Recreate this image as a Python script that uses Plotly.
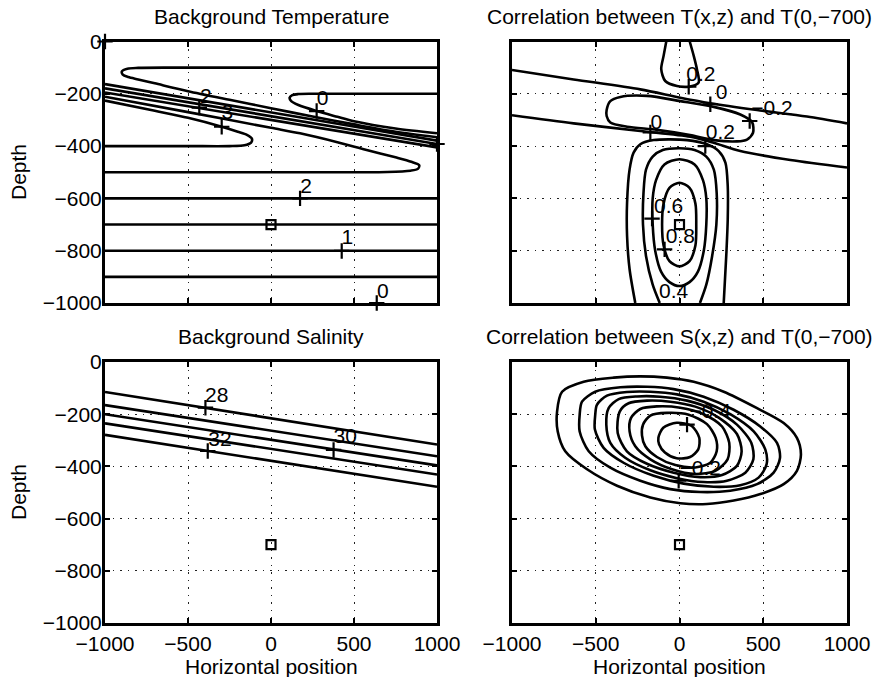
import plotly.graph_objects as go

FONT = "Liberation Sans, Arial, Helvetica, sans-serif"

# ---------------- axes ----------------
X_TICKS = [-1000, -500, 0, 500, 1000]
X_TICK_TEXT = ["−1000", "−500", "0", "500", "1000"]
Z_TICKS = [0, -200, -400, -600, -800, -1000]
Z_TICK_TEXT = ["0", "−200", "−400", "−600", "−800", "−1000"]

TITLES = ["Background Temperature",
          "Correlation between T(x,z) and T(0,−700)",
          "Background Salinity",
          "Correlation between S(x,z) and T(0,−700)"]

REF_X = [0]
REF_Z = [-700]

# ---------------- panel 1 : background temperature (contour lines, x / depth) ----------------
T_tongue_x = [1000, 0, -600, -800, -865, -898, -893, -860, -800, -700, -500, -250, 0, 250, 500, 750, 1000]
T_tongue_z = [-100, -100, -100, -101, -104, -114, -127, -136, -145, -160, -190, -223, -255, -287, -317, -345, -366]
T_nose_x = [1000, 500, 250, 165, 128, 112, 122, 165, 275, 400, 500, 750, 1000]
T_nose_z = [-200, -200, -200, -201, -205, -215, -228, -243, -266, -288, -305, -333, -351]
T_a_x = [-1000, 1000]
T_a_z = [-163, -379]
T_b_x = [-1000, 1000]
T_b_z = [-179, -392]
T_c_x = [-1000, 1000]
T_c_z = [-195, -405]
T_l500_x = [-1000, -500, 0, 175, 400, 576, 750, 845, 893, 885, 840, 700, 400, -1000]
T_l500_z = [-211, -270, -330, -351, -385, -415, -443, -460, -473, -487, -494, -499, -500, -500]
T_l400_x = [-1000, -700, -500, -297, -200, -145, -115, -120, -160, -250, -500, -1000]
T_l400_z = [-226, -265, -292, -326, -345, -357, -372, -387, -397, -400, -400, -400]
T_flat_levels = [-600, -700, -800, -900]

T_plus_x = [-432, -297, 275, 175, 426, 637, -1000, 1000]
T_plus_z = [-253, -326, -266, -600, -801, -1000, 0, -392]
T_lab_x = [-392, -263, 311, 211, 460, 673]
T_lab_z = [-215, -275, -221, -559, -754, -961]
T_lab_text = ["2", "3", "0", "2", "1", "0"]

# ---------------- panel 2 : correlation T(x,z) with T(0,-700) ----------------
CT_drop_x = [-79, -95, -109, -85, -15, 55, 114, 104, 85, 61]
CT_drop_z = [0, -55, -106, -151, -170, -173, -157, -106, -55, 0]
CT_up0_x = [-1000, -632, -234, 5, 184, 463, 761, 1000]
CT_up0_z = [-109, -145, -183, -215, -236, -262, -287, -313]
CT_loop_x = [-435, -413, -353, -194, 5, 204, 363, 433, 439, 403, 343, 204, 63, -134, -313, -413, -435, -435]
CT_loop_z = [-262, -228, -212, -208, -228, -250, -279, -308, -349, -375, -382, -377, -358, -338, -326, -310, -285, -262]
CT_low0_x = [-1000, -632, -234, 65, 204, 363, 662, 1000]
CT_low0_z = [-282, -313, -342, -364, -387, -419, -453, -482]
CT_02_x = [-264, -298, -313, -313, -298, -274, -234, -154, 45, 164, 234, 274, 288, 288, 280, 264]
CT_02_z = [-1000, -871, -744, -616, -489, -425, -393, -377, -377, -393, -419, -463, -553, -680, -808, -1000]
CT_04_x = [-118, -160, -200, -218, -215, -200, -160, -100, 0, 90, 160, 205, 222, 220, 195, 160, 122]
CT_04_z = [-1000, -930, -820, -700, -580, -490, -440, -415, -408, -415, -440, -490, -580, -700, -820, -930, -1000]
CT_06_x = [0, -90, -140, -160, -160, -145, -110, -60, 0, 60, 110, 145, 160, 160, 140, 90, 0]
CT_06_z = [-450, -470, -530, -600, -700, -800, -880, -920, -935, -920, -880, -800, -700, -600, -530, -470, -450]
CT_08_x = [0, -60, -95, -104, -95, -60, 0, 60, 95, 100, 95, 60, 0]
CT_08_z = [-540, -560, -620, -700, -780, -840, -860, -840, -780, -700, -620, -560, -540]

CT_plus_x = [55, 184, 419, -174, 154, -164, -89, -118]
CT_plus_z = [-173, -240, -304, -348, -400, -677, -795, -1003]
CT_lab_x = [128, 252, 552, -138, 244, -65, 5, -35]
CT_lab_z = [-130, -198, -262, -313, -351, -635, -750, -961]
CT_lab_text = ["0.2", "0", "−0.2", "0", "0.2", "0.6", "0.8", "0.4"]

# ---------------- panel 3 : background salinity ----------------
S_left_z = [-115, -165, -200, -235, -279]
S_right_z = [-316, -361, -396, -431, -478]
S_edges_x = [-1000, 1000]

S_plus_x = [-395, -381, 377]
S_plus_z = [-175, -341, -337]
S_lab_x = [-327, -307, 447]
S_lab_z = [-135, -300, -292]
S_lab_text = ["28", "32", "30"]

# ---------------- panel 4 : correlation S(x,z) with T(0,-700) ----------------
CS_e1_x = [-126, -97, -17, 73, 118, 112, 63, -17, -87, -122, -126]
CS_e1_z = [-290, -252, -233, -245, -290, -335, -364, -369, -347, -315, -290]
CS_e2_x = [-218, -174, -75, 55, 164, 216, 222, 184, 94, -25, -135, -204, -224, -218]
CS_e2_z = [-240, -205, -195, -202, -238, -291, -342, -386, -404, -395, -364, -323, -281, -240]
CS_e3_x = [-290, -234, -135, 5, 144, 254, 297, 287, 214, 94, -45, -174, -264, -298, -290]
CS_e3_z = [-215, -180, -170, -175, -200, -247, -310, -373, -417, -429, -411, -373, -323, -266, -215]
CS_e4_x = [-357, -304, -194, -55, 94, 234, 343, 371, 343, 254, 124, -35, -194, -314, -369, -357]
CS_e4_z = [-190, -158, -148, -152, -171, -213, -276, -342, -398, -433, -441, -424, -390, -342, -272, -190]
CS_e5_x = [-423, -363, -254, -115, 45, 204, 343, 429, 441, 393, 283, 144, -15, -174, -324, -413, -437, -423]
CS_e5_z = [-177, -142, -132, -133, -148, -183, -240, -310, -373, -424, -455, -460, -445, -415, -367, -310, -240, -177]
CS_e6_x = [-493, -433, -314, -174, -15, 144, 303, 443, 512, 520, 472, 363, 204, 25, -154, -334, -453, -505, -503, -493]
CS_e6_z = [-164, -129, -115, -114, -124, -152, -200, -266, -335, -392, -443, -472, -478, -466, -436, -386, -329, -259, -202, -164]
CS_e7_x = [-582, -503, -353, -194, -35, 144, 323, 482, 582, 600, 562, 463, 303, 124, -55, -234, -413, -542, -596, -596, -582]
CS_e7_z = [-152, -114, -97, -95, -104, -133, -183, -247, -310, -367, -424, -468, -493, -498, -487, -455, -405, -342, -266, -202, -152]
CS_e8_x = [-731, -701, -572, -393, -234, -75, 85, 264, 463, 622, 701, 725, 701, 622, 483, 324, 164, 5, -174, -373, -552, -682, -727, -731]
CS_e8_z = [-190, -114, -76, -60, -55, -60, -76, -114, -177, -234, -291, -354, -417, -468, -506, -531, -544, -541, -519, -474, -411, -342, -266, -190]

CS_plus_x = [45, -5]
CS_plus_z = [-240, -455]
CS_lab_x = [184, 124]
CS_lab_z = [-196, -411]
CS_lab_text = ["−0.4", "−0.2"]

# ---------------- figure ----------------
fig = go.Figure()
LW = 2.6


def refs(i):
    s = "" if i == 1 else str(i)
    return "x" + s, "y" + s


def add_line(i, xs, zs, smooth=True):
    xa, ya = refs(i)
    fig.add_trace(go.Scatter(
        x=xs, y=zs, xaxis=xa, yaxis=ya, mode="lines",
        line=dict(color="black", width=LW,
                  shape="spline" if smooth else "linear", smoothing=0.8),
        hoverinfo="skip", showlegend=False))


def add_labels(i, px, pz, lx, lz, txt):
    xa, ya = refs(i)
    fig.add_trace(go.Scatter(
        x=px, y=pz, xaxis=xa, yaxis=ya, mode="markers", cliponaxis=False,
        marker=dict(symbol="cross-thin", size=11, color="black",
                    line=dict(color="black", width=2.2)),
        hoverinfo="skip", showlegend=False))
    fig.add_trace(go.Scatter(
        x=lx, y=lz, xaxis=xa, yaxis=ya, mode="text", text=txt, cliponaxis=False,
        textposition="middle center",
        textfont=dict(family=FONT, size=21, color="black"),
        hoverinfo="skip", showlegend=False))


def add_ref(i):
    xa, ya = refs(i)
    fig.add_trace(go.Scatter(
        x=REF_X, y=REF_Z, xaxis=xa, yaxis=ya, mode="markers", cliponaxis=False,
        marker=dict(symbol="square-open", size=9, color="black",
                    line=dict(color="black", width=2.2)),
        hoverinfo="skip", showlegend=False))


# panel 1
for xs, zs in [(T_tongue_x, T_tongue_z), (T_nose_x, T_nose_z),
               (T_l500_x, T_l500_z), (T_l400_x, T_l400_z)]:
    add_line(1, xs, zs, True)
for xs, zs in [(T_a_x, T_a_z), (T_b_x, T_b_z), (T_c_x, T_c_z)]:
    add_line(1, xs, zs, False)
for lev in T_flat_levels:
    add_line(1, [-1000, 1000], [lev, lev], False)
add_ref(1)
add_labels(1, T_plus_x, T_plus_z, T_lab_x, T_lab_z, T_lab_text)

# panel 2
for xs, zs in [(CT_drop_x, CT_drop_z), (CT_up0_x, CT_up0_z), (CT_loop_x, CT_loop_z),
               (CT_low0_x, CT_low0_z), (CT_02_x, CT_02_z), (CT_04_x, CT_04_z),
               (CT_06_x, CT_06_z), (CT_08_x, CT_08_z)]:
    add_line(2, xs, zs, True)
add_ref(2)
add_labels(2, CT_plus_x, CT_plus_z, CT_lab_x, CT_lab_z, CT_lab_text)

# panel 3
for zl, zr in zip(S_left_z, S_right_z):
    add_line(3, S_edges_x, [zl, zr], False)
add_ref(3)
add_labels(3, S_plus_x, S_plus_z, S_lab_x, S_lab_z, S_lab_text)

# panel 4
for xs, zs in [(CS_e1_x, CS_e1_z), (CS_e2_x, CS_e2_z), (CS_e3_x, CS_e3_z), (CS_e4_x, CS_e4_z),
               (CS_e5_x, CS_e5_z), (CS_e6_x, CS_e6_z), (CS_e7_x, CS_e7_z), (CS_e8_x, CS_e8_z)]:
    add_line(4, xs, zs, True)
add_ref(4)
add_labels(4, CS_plus_x, CS_plus_z, CS_lab_x, CS_lab_z, CS_lab_text)

# ---------------- layout ----------------
W, H = 877, 677
LEFT = [105 / W, 437 / W]
RIGHT = [512 / W, 847 / W]
TOP = [1 - 303 / H, 1 - 41.5 / H]
BOT = [1 - 623 / H, 1 - 362 / H]
doms = {1: (LEFT, TOP), 2: (RIGHT, TOP), 3: (LEFT, BOT), 4: (RIGHT, BOT)}

axis_common = dict(
    showgrid=True, gridcolor="#222222", gridwidth=1.3, griddash="1.5px,6px",
    zeroline=False, showline=True, linecolor="black", linewidth=3, mirror="ticks",
    ticks="inside", ticklen=5, tickwidth=1.5, tickcolor="black",
    tickfont=dict(family=FONT, size=21, color="black"), fixedrange=True,
    automargin=False,
)

layout = dict(
    width=W, height=H, margin=dict(l=0, r=0, t=0, b=0, autoexpand=False),
    paper_bgcolor="white", plot_bgcolor="white",
    font=dict(family=FONT, size=21, color="black"),
    showlegend=False, annotations=[],
)
for i, (dx, dy) in doms.items():
    s = "" if i == 1 else str(i)
    layout["xaxis" + s] = dict(
        axis_common, domain=dx, anchor="y" + s, range=[-1000, 1000],
        tickvals=X_TICKS, ticktext=X_TICK_TEXT, showticklabels=i in (3, 4),
        ticklabelstandoff=0)
    layout["yaxis" + s] = dict(
        axis_common, domain=dy, anchor="x" + s, range=[-1000, 0],
        tickvals=Z_TICKS, ticktext=Z_TICK_TEXT, showticklabels=i in (1, 3),
        ticklabelstandoff=-4)

ann = []
title_pos = [(271 / W, 1 - 16.5 / H), (679.5 / W, 1 - 16.5 / H),
             (271 / W, 1 - 336.5 / H), (679.5 / W, 1 - 336.5 / H)]
for t, (tx, ty) in zip(TITLES, title_pos):
    ann.append(dict(text=t, x=tx, y=ty, xref="paper", yref="paper",
                    xanchor="center", yanchor="middle", showarrow=False,
                    font=dict(family=FONT, size=21, color="black")))
for ty in (1 - 172 / H, 1 - 492 / H):
    ann.append(dict(text="Depth", x=18 / W, y=ty, xref="paper", yref="paper",
                    xanchor="center", yanchor="middle", showarrow=False, textangle=-90,
                    font=dict(family=FONT, size=21, color="black")))
for tx in (271 / W, 679.5 / W):
    ann.append(dict(text="Horizontal position", x=tx, y=1 - 666 / H, xref="paper", yref="paper",
                    xanchor="center", yanchor="middle", showarrow=False,
                    font=dict(family=FONT, size=21, color="black")))
layout["annotations"] = ann

fig.update_layout(**layout)
fig.write_html("out.html")
